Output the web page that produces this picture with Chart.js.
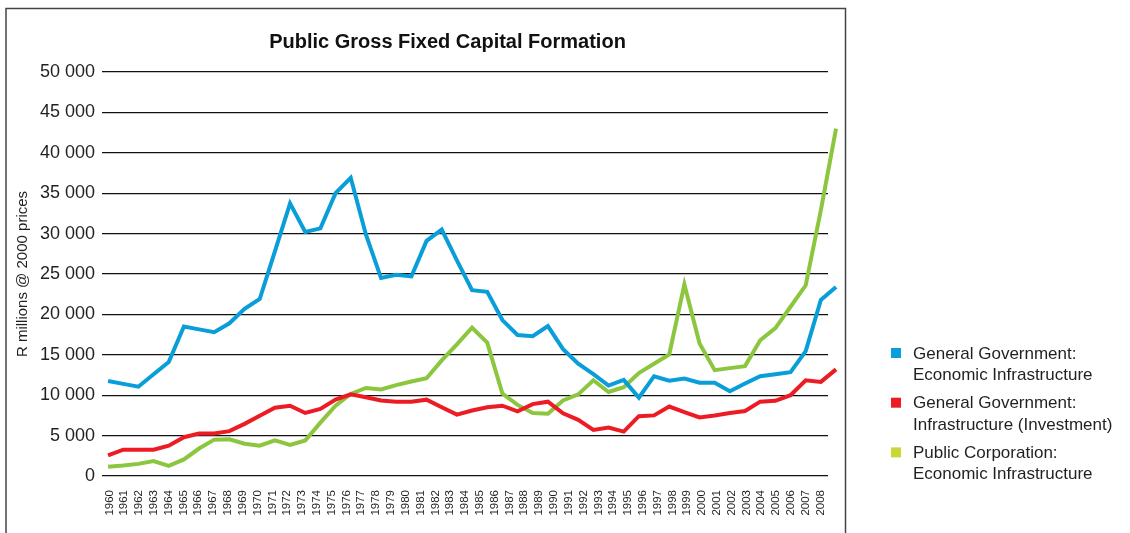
<!DOCTYPE html>
<html lang="en">

<head>
  <meta charset="UTF-8">
  <title>Public Gross Fixed Capital Formation</title>
  <script src="https://cdn.jsdelivr.net/npm/chart.js"></script>
  <style>
    html, body { margin: 0; padding: 0; background: #fff; }
    #box { position: relative; width: 1130px; height: 533px; }
  </style>
</head>

<body>
  <div id="box">
    <canvas id="graf_gfcf" width="1130" height="533"></canvas>
  </div>

<script>
  // years (x axis)
  var anos = ['1960', '1961', '1962', '1963', '1964', '1965', '1966', '1967', '1968', '1969',
    '1970', '1971', '1972', '1973', '1974', '1975', '1976', '1977', '1978', '1979',
    '1980', '1981', '1982', '1983', '1984', '1985', '1986', '1987', '1988', '1989',
    '1990', '1991', '1992', '1993', '1994', '1995', '1996', '1997', '1998', '1999',
    '2000', '2001', '2002', '2003', '2004', '2005', '2006', '2007', '2008'];

  // R millions @ 2000 prices
  var govEconomic = [11750, 11400, 11050, 12600, 14100, 18500, 18150, 17800, 18900, 20700,
    21900, 27800, 33750, 30200, 30650, 35000, 36900, 29900, 24500, 24900,
    24700, 29100, 30500, 26700, 23000, 22800, 19300, 17450, 17300, 18550,
    15700, 13900, 12600, 11200, 11900, 9700, 12350, 11800, 12050, 11550,
    11550, 10500, 11450, 12350, 12600, 12850, 15450, 21800, 23400];

  var govInvestment = [2550, 3250, 3250, 3250, 3750, 4800, 5250, 5250, 5550, 6450,
    7450, 8450, 8700, 7800, 8300, 9450, 10100, 9750, 9350, 9200,
    9200, 9450, 8500, 7600, 8100, 8500, 8700, 8000, 8900, 9200,
    7750, 6950, 5700, 6000, 5500, 7400, 7500, 8600, 7900, 7250,
    7500, 7800, 8050, 9200, 9300, 10000, 11850, 11650, 13200];

  var corpEconomic = [1150, 1300, 1500, 1850, 1250, 2050, 3400, 4500, 4550, 4000,
    3750, 4400, 3850, 4400, 6600, 8700, 10150, 10900, 10700, 11250,
    11700, 12100, 14300, 16300, 18350, 16500, 10200, 8800, 7800, 7700,
    9350, 10100, 11850, 10400, 11000, 12750, 13900, 15050, 23700, 16400,
    13100, 13350, 13600, 16800, 18300, 20950, 23600, 32900, 43000];

  // legend text, one entry per series, split in two lines
  var nomes = [
    ['General Government:', 'Economic Infrastructure'],
    ['General Government:', 'Infrastructure (Investment)'],
    ['Public Corporation:', 'Economic Infrastructure']
  ];

  var titulo = 'Public Gross Fixed Capital Formation';
  var tituloEixoY = 'R millions @ 2000 prices';

  var corLinha = ['#0a9ed9', '#ed1c24', '#8cc63f'];
  var corLegenda = ['#0a9ed9', '#ed1c24', '#c9d834'];
  var fonte = '"Liberation Sans", Arial, sans-serif';

  // frame around the plot, title and the legend on the right
  var extras = {
    id: 'extras',
    beforeDraw: function (chart) {
      var ctx = chart.ctx;
      ctx.save();
      ctx.strokeStyle = '#444';
      ctx.lineWidth = 1.5;
      ctx.beginPath();
      ctx.moveTo(6, 540);
      ctx.lineTo(6, 8.5);
      ctx.lineTo(845.5, 8.5);
      ctx.lineTo(845.5, 540);
      ctx.stroke();
      ctx.restore();
    },
    afterDraw: function (chart) {
      var ctx = chart.ctx;
      ctx.save();
      ctx.fillStyle = '#111';
      ctx.font = 'bold 20px ' + fonte;
      ctx.textAlign = 'center';
      ctx.textBaseline = 'alphabetic';
      ctx.fillText(titulo, 447.5, 48);

      ctx.font = '17px ' + fonte;
      ctx.textAlign = 'left';
      for (var i = 0; i < nomes.length; i++) {
        var topo = 348 + i * 49.7;
        ctx.fillStyle = corLegenda[i];
        ctx.fillRect(891, topo, 10, 10);
        ctx.fillStyle = '#231f20';
        ctx.fillText(nomes[i][0], 913, topo + 10.5);
        ctx.fillText(nomes[i][1], 913, topo + 32);
      }
      ctx.restore();
    }
  };

  function serie(i, valores) {
    return {
      label: nomes[i].join(' '),
      data: valores,
      xAxisID: 'xd',
      borderColor: corLinha[i],
      backgroundColor: corLinha[i],
      borderWidth: 4,
      pointRadius: 0,
      tension: 0,
      clip: false
    };
  }

  var ctx = document.getElementById('graf_gfcf').getContext('2d');
  var grafico = new Chart(ctx, {
    type: 'line',
    data: {
      labels: anos,
      datasets: [
        serie(0, govEconomic),
        serie(1, govInvestment),
        serie(2, corpEconomic)
      ]
    },
    plugins: [extras],
    options: {
      responsive: false,
      animation: false,
      layout: { padding: { left: 6, top: 72, right: 302, bottom: 0 } },
      plugins: {
        legend: { display: false },
        title: { display: false },
        tooltip: { enabled: false }
      },
      scales: {
        // year labels only
        x: {
          type: 'category',
          offset: true,
          grid: { display: false },
          border: { display: false },
          ticks: {
            autoSkip: false,
            minRotation: 90,
            maxRotation: 90,
            padding: 6,
            color: '#231f20',
            font: { family: fonte, size: 11.5 }
          },
          afterFit: function (scale) { scale.height = 57; }
        },
        // positions of the line points
        xd: {
          type: 'linear',
          display: false,
          min: 1959.6,
          max: 2007.47
        },
        y: {
          min: 0,
          max: 50000,
          border: { display: false },
          grid: { color: '#111', lineWidth: 1.3, drawTicks: false },
          ticks: {
            stepSize: 5000,
            padding: 7,
            color: '#231f20',
            font: { family: fonte, size: 18 },
            callback: function (v) {
              return v.toLocaleString('en-US').replace(/,/g, ' ');
            }
          },
          title: {
            display: true,
            text: tituloEixoY,
            color: '#231f20',
            font: { family: fonte, size: 15 },
            padding: { top: 8, bottom: 0 }
          },
          afterFit: function (scale) { scale.width = 96; }
        }
      }
    }
  });
</script>
</body>

</html>
